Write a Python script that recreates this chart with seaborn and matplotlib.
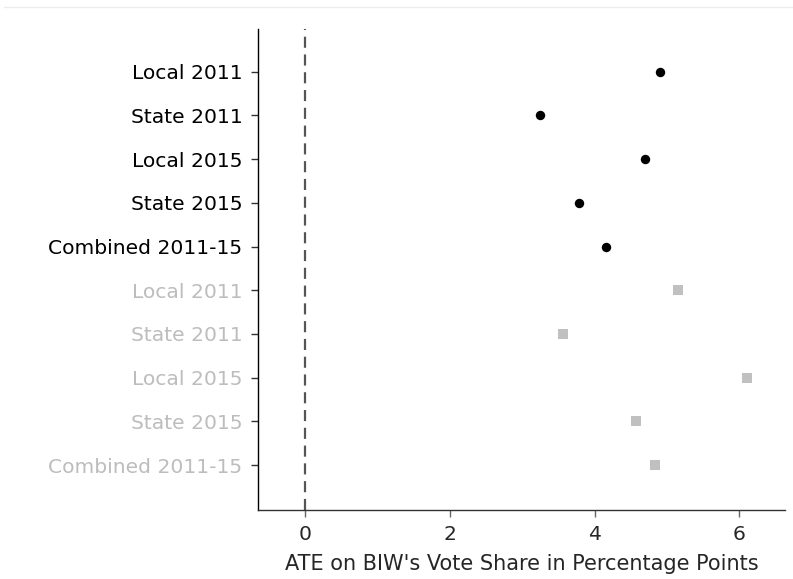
import matplotlib
matplotlib.use("Agg")
import matplotlib.pyplot as plt
from matplotlib.lines import Line2D
import numpy as np
import pandas as pd
import seaborn as sns

# Estimates: first block (black circles), second block (grey squares)
labels = ["Local 2011", "State 2011", "Local 2015", "State 2015", "Combined 2011-15",
          "Local 2011", "State 2011", "Local 2015", "State 2015", "Combined 2011-15"]
ate_main = [4.91, 3.25, 4.69, 3.78, 4.16]
ate_alt = [5.15, 3.56, 6.10, 4.57, 4.84]
groups = ["main"] * 5 + ["alt"] * 5
x_ticks = [0, 2, 4, 6]

df = pd.DataFrame({
    "pos": np.arange(len(labels)),
    "ate": ate_main + ate_alt,
    "group": groups,
})

sns.set_theme(style="white")
plt.rcParams["font.family"] = ["DejaVu Sans"]

fig = plt.figure(figsize=(7.93, 5.79), dpi=100)
ax = fig.add_axes([0.325, 0.119, 0.665, 0.831])

ax.axvline(0, color="#555555", linestyle=(0, (5, 3)), linewidth=1.6, zorder=1)

sns.scatterplot(data=df[df.group == "main"], x="ate", y="pos", ax=ax,
                marker="o", s=46, color="black", edgecolor="black", linewidth=0,
                zorder=3, legend=False)
sns.scatterplot(data=df[df.group == "alt"], x="ate", y="pos", ax=ax,
                marker="s", s=62, color="#c0c0c0", edgecolor="#c0c0c0", linewidth=0,
                zorder=3, legend=False)

ax.set_xlim(-0.65, 6.63)
ax.set_ylim(len(labels) - 1 + 1.03, -0.98)
ax.set_xticks(x_ticks)
ax.set_xticklabels([str(t) for t in x_ticks], fontsize=14.6)
ax.set_yticks(np.arange(len(labels)))
ax.set_yticklabels(labels, fontsize=14.6)
for i, t in enumerate(ax.get_yticklabels()):
    t.set_color("black" if groups[i] == "main" else "#bdbdbd")

ax.set_xlabel("ATE on BIW's Vote Share in Percentage Points", fontsize=15, labelpad=7)
ax.set_ylabel("")

sns.despine(ax=ax, top=True, right=True)
ax.spines["left"].set_color("black")
ax.spines["left"].set_linewidth(1.0)
ax.spines["bottom"].set_color("#333333")
ax.spines["bottom"].set_linewidth(1.0)
ax.tick_params(axis="y", which="both", left=True, length=5, width=1, color="#333333", pad=6)
ax.tick_params(axis="x", which="both", bottom=True, length=5, width=1, color="#666666", pad=6)

# thin light rule along the top of the canvas
fig.add_artist(Line2D([0.005, 1.0], [0.988, 0.988], transform=fig.transFigure,
                      color="#ececec", linewidth=1.0))

fig.savefig("out.png", dpi=100, facecolor="white")
